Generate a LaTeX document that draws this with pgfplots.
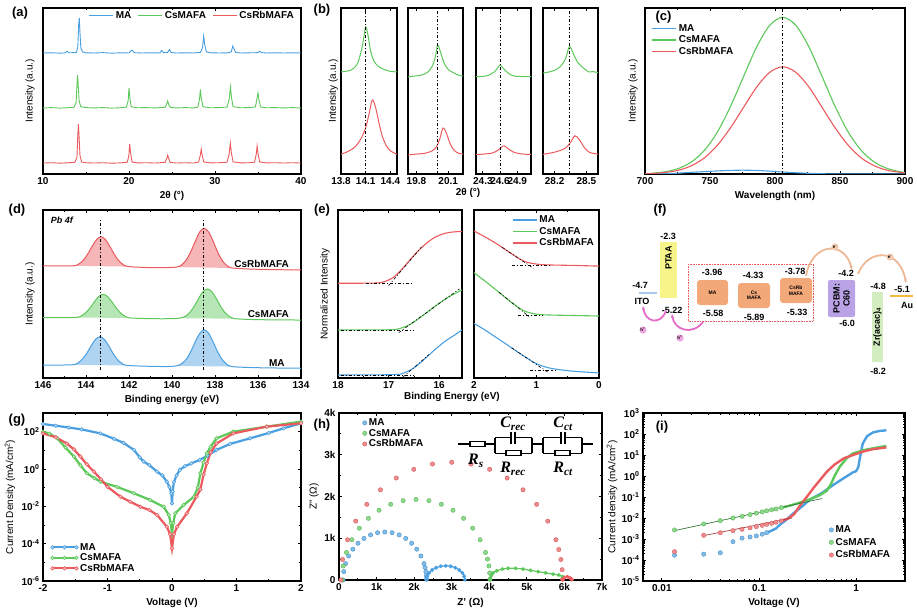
\documentclass[border=0pt]{standalone}
\usepackage{fontspec}
\setmainfont{Liberation Sans}
\newfontfamily\serifrm{Liberation Serif}
\usepackage{pgfplots}
\pgfplotsset{compat=1.18}
\usetikzlibrary{arrows.meta}
\definecolor{cB}{HTML}{4A9FE0}
\definecolor{cG}{HTML}{5CC85A}
\definecolor{cR}{HTML}{EB5A5E}
\definecolor{cPTAA}{HTML}{F7F58A}
\definecolor{cPVK}{HTML}{F2A878}
\definecolor{cPCBM}{HTML}{B9A2E6}
\definecolor{cZr}{HTML}{D4EDC0}
\definecolor{cITO}{HTML}{A9C8EC}
\definecolor{cAu}{HTML}{F6B844}
\definecolor{cEa}{HTML}{EDB894}
\definecolor{cHa}{HTML}{E46BC8}
\newcommand{\mytf}{\bfseries\fontsize{10}{11}\selectfont}
\newcommand{\mylf}{\mdseries\fontsize{10}{11}\selectfont}
\newcommand{\mypf}{\bfseries\fontsize{13}{13}\selectfont}
\newcommand{\myffn}{\bfseries\fontsize{9}{10}\selectfont}
\newcommand{\mysfn}{\bfseries\fontsize{5}{5.5}\selectfont}
\newcommand{\myxfn}{\bfseries\fontsize{4.5}{5}\selectfont}
\newcommand{\myitf}{\bfseries\itshape\fontsize{9}{10}\selectfont}
\newcommand{\mycf}{\serifrm\bfseries\itshape\fontsize{16}{16}\selectfont}
\pgfplotsset{
  every axis/.append style={
    scale only axis, anchor=south west,
    axis line style={line width=1.1pt},
    tick align=inside, major tick length=3pt, minor tick length=1.8pt,
    every tick/.style={black, line width=0.8pt},
    tick label style={font=\mytf},
    label style={font=\mytf},
    /pgf/number format/assume math mode=true,
    legend cell align=left,
  },
  ylpos/.style={every axis y label/.style={at={(axis description cs:#1,0.5)}, rotate=90, anchor=center}},
  lineleg/.style={legend image code/.code={\draw[##1, line width=1.5pt] (0pt,0pt) -- (24pt,0pt);}},
  dotm/.style={only marks, mark=*, mark size=2.2pt, mark options={fill=#1!70, draw=#1!85!black, line width=0.3pt}},
  gline/.style={#1, line width=2.2pt, mark=*, mark size=1.8pt, mark options={fill=#1!35, draw=#1, line width=0.6pt}},
}
\begin{document}
\begin{tikzpicture}[x=1pt,y=1pt]
\useasboundingbox (0,0) rectangle (917,611);

% ---------------- (a)
\begin{axis}[at={(43pt,437pt)}, width=258pt, height=166pt,
 xmin=10, xmax=40, ymin=0, ymax=100, xtick={10,20,30,40}, minor x tick num=1, ytick=\empty,
 xlabel={2θ  (°)}, ylabel={Intensity (a.u.)}, ylpos=-0.05, ylabel style={font=\mylf},
 lineleg, legend columns=3,
 legend style={at={(0.985,1)}, anchor=north east, draw=none, fill=none, font=\mytf, inner sep=1pt,
   /tikz/every even column/.append style={column sep=4pt}},
 every axis plot/.append style={line width=0.9pt}]
\addplot[cB] coordinates {(10,72.9)(11,73.0)(12,72.8)(12.6,73.0)(12.8,74.0)(13.0,73.0)(13.5,73.1)(13.9,73.3)(14.05,77)(14.15,90)(14.22,94)(14.3,85)(14.4,76)(14.6,73.5)(15,73.0)(16,72.9)(17,73.1)(18,72.8)(19,73.0)(20,72.9)(20.2,74.2)(20.4,74.5)(20.6,73.1)(21.5,72.9)(22.5,73.0)(23.6,73.0)(23.8,74.5)(24.0,73.1)(24.5,73.3)(24.7,75)(24.9,73.2)(25.5,72.9)(26.5,73.0)(27.5,72.9)(28.3,73.3)(28.55,76)(28.68,83)(28.8,78)(29.0,73.5)(29.5,73.0)(30.5,72.9)(31.5,73.0)(31.9,73.6)(32.05,77)(32.2,75.5)(32.4,73.2)(33,72.9)(34,73.0)(35.0,73.1)(35.2,74.0)(35.4,73.1)(36,72.9)(37,73.0)(38,72.9)(39,73.0)(40,72.9)};
\addlegendentry{MA}
\addplot[cG] coordinates {(10,39.8)(11,40.0)(12,39.7)(13,40.0)(13.6,40.2)(13.85,43)(13.95,54)(14.02,59.6)(14.1,53)(14.2,44)(14.4,40.5)(15,40.0)(16,39.8)(17,40.0)(18,39.7)(19,39.9)(19.7,40.3)(19.9,44)(20.0,51.8)(20.1,46)(20.25,40.5)(21,39.9)(22,40.0)(23,39.8)(24.2,40.2)(24.4,42.5)(24.5,44)(24.6,42)(24.8,40.2)(25.5,39.8)(26.5,40.0)(27.5,39.8)(28.0,40.3)(28.2,45)(28.3,51)(28.4,46)(28.6,40.5)(29.5,39.9)(30.5,40.0)(31.4,40.3)(31.65,45)(31.8,52.4)(31.92,46)(32.1,40.6)(33,39.9)(34,40.0)(34.7,40.4)(34.9,46)(35.0,48.8)(35.1,45)(35.3,40.4)(36,39.9)(37,40.0)(38,39.8)(39,40.0)(40,39.8)};
\addlegendentry{CsMAFA}
\addplot[cR] coordinates {(10,6.6)(11,6.8)(12,6.5)(13,6.8)(13.7,7.0)(13.95,10)(14.05,24)(14.12,30)(14.2,22)(14.3,11)(14.5,7.2)(15,6.8)(16,6.6)(17,6.8)(18,6.5)(19,6.7)(19.8,7.1)(19.98,11)(20.08,18)(20.18,13)(20.35,7.2)(21,6.7)(22,6.8)(23,6.6)(24.2,7.0)(24.4,9.5)(24.5,11.4)(24.6,9.5)(24.8,7.0)(25.5,6.6)(26.5,6.8)(27.5,6.6)(28.1,7.2)(28.3,11.5)(28.4,15)(28.5,11.5)(28.7,7.2)(29.5,6.7)(30.5,6.8)(31.4,7.1)(31.65,12)(31.78,18.7)(31.9,13)(32.1,7.3)(33,6.7)(34,6.8)(34.6,7.1)(34.8,12)(34.9,16.9)(35.0,12.5)(35.2,7.2)(36,6.7)(37,6.8)(38,6.6)(39,6.8)(40,6.6)};
\addlegendentry{CsRbMAFA}
\end{axis}

% ---------------- (b)
\begin{axis}[at={(341pt,437pt)}, width=56pt, height=166pt, xmin=13.8, xmax=14.48, ymin=0, ymax=100,
 xtick={13.8,14.1,14.4}, ytick=\empty, ylabel={Intensity (a.u.)}, ylpos=-0.14, ylabel style={font=\mylf},
 every axis plot/.append style={line width=1pt}]
\addplot[cG, smooth] coordinates {(13.8,61.5)(13.85,61.8)(13.9,62.2)(13.95,63.5)(14.0,66.5)(14.04,73)(14.07,80)(14.1,88.6)(14.13,83)(14.16,74)(14.2,68)(14.25,65)(14.3,63.5)(14.35,62.5)(14.4,61.8)(14.48,61.5)};
\addplot[cR, smooth] coordinates {(13.8,12.0)(13.85,12.8)(13.9,14.0)(13.95,15.5)(14.0,18)(14.05,22)(14.1,28)(14.14,36)(14.18,44.6)(14.22,40)(14.26,31)(14.3,23)(14.35,17)(14.4,14)(14.45,12.5)(14.48,12.0)};
\addplot[black, dash dot, line width=0.8pt] coordinates {(14.1,0)(14.1,100)};
\end{axis}
\begin{axis}[at={(408pt,437pt)}, width=55pt, height=166pt, xmin=19.72, xmax=20.24, ymin=0, ymax=100,
 xtick={19.8,20.1}, ytick=\empty, every axis plot/.append style={line width=1pt}]
\addplot[cG, smooth] coordinates {(19.72,58.5)(19.78,59)(19.84,59.5)(19.9,61)(19.95,65)(19.98,71)(20.0,77.7)(20.03,73)(20.06,67)(20.1,63)(20.15,61)(20.2,59.5)(20.24,59)};
\addplot[cR, smooth] coordinates {(19.72,11.5)(19.8,12)(19.88,12.5)(19.95,14)(19.99,16.5)(20.02,21)(20.05,27.7)(20.08,25)(20.12,18)(20.16,14)(20.2,12.5)(20.24,12)};
\addplot[black, dash dot, line width=0.8pt] coordinates {(20.0,0)(20.0,100)};
\end{axis}
\begin{axis}[at={(476pt,437pt)}, width=55pt, height=166pt, xmin=24.18, xmax=25.14, ymin=0, ymax=100,
 xtick={24.3,24.6,24.9}, ytick=\empty, every axis plot/.append style={line width=1pt}]
\addplot[cG, smooth] coordinates {(24.18,58.6)(24.3,58.8)(24.4,59.5)(24.5,61.5)(24.56,64)(24.6,65.7)(24.66,63.5)(24.75,60.5)(24.85,59)(25.0,58.7)(25.14,58.6)};
\addplot[cR, smooth] coordinates {(24.18,11.6)(24.3,12)(24.45,12.5)(24.55,14)(24.62,16)(24.67,17)(24.75,15)(24.85,13)(25.0,12)(25.14,11.8)};
\addplot[black, dash dot, line width=0.8pt] coordinates {(24.6,0)(24.6,100)};
\end{axis}
\begin{axis}[at={(543pt,437pt)}, width=55pt, height=166pt, xmin=28.09, xmax=28.61, ymin=0, ymax=100,
 xtick={28.2,28.5}, ytick=\empty, every axis plot/.append style={line width=1pt}]
\addplot[cG, smooth] coordinates {(28.09,60.8)(28.15,61.5)(28.2,62.5)(28.25,64.5)(28.3,69)(28.34,76.7)(28.38,72)(28.42,67)(28.47,64)(28.52,61.5)(28.56,61.7)(28.61,61)};
\addplot[cR, smooth] coordinates {(28.09,11.8)(28.15,12.5)(28.22,13.5)(28.3,15.5)(28.35,19)(28.39,23)(28.43,21)(28.48,16)(28.53,13)(28.61,12)};
\addplot[black, dash dot, line width=0.8pt] coordinates {(28.34,0)(28.34,100)};
\end{axis}

% ---------------- (c)
\begin{axis}[at={(645pt,437pt)}, width=260pt, height=166pt, xmin=700, xmax=900, ymin=0, ymax=100,
 xtick={700,750,800,850,900}, minor x tick num=1, ytick=\empty,
 xlabel={Wavelength (nm)}, ylabel={Intensity (a.u.)}, ylpos=-0.046, ylabel style={font=\mylf},
 lineleg, legend style={at={(0.02,0.92)}, anchor=north west, draw=none, fill=none, font=\mytf, inner sep=1pt, row sep=-1pt},
 every axis plot/.append style={line width=1.1pt}]
\addplot[cB, smooth] coordinates {(700,0)(720,0.3)(740,1.2)(760,2.0)(775,2.3)(790,2.0)(806,1.2)(820,0.6)(840,0.1)(860,0)(900,0)};
\addlegendentry{MA}
\addplot[cG, smooth] coordinates {(700,0.2)(706,0.5)(716,1.4)(726,3.4)(736,7.4)(746,14.5)(756,25.7)(766,41.1)(776,59.1)(786,76.7)(796,89.6)(806,94.4)(816,89.6)(826,76.7)(836,59.1)(846,41.1)(856,25.7)(866,14.5)(876,7.4)(886,3.4)(896,1.4)(900,0.9)};
\addlegendentry{CsMAFA}
\addplot[cR, smooth] coordinates {(700,0.1)(706,0.3)(716,1.0)(726,2.3)(736,5.1)(746,9.9)(756,17.6)(766,28.1)(776,40.4)(786,52.5)(796,61.3)(806,64.6)(816,61.3)(826,52.5)(836,40.4)(846,28.1)(856,17.6)(866,9.9)(876,5.1)(886,2.3)(896,1.0)(900,0.6)};
\addlegendentry{CsRbMAFA}
\addplot[black, dash dot, line width=0.7pt, forget plot] coordinates {(806,0)(806,100)};
\end{axis}

% ---------------- (d)
\begin{axis}[at={(43pt,233pt)}, width=258pt, height=168pt, x dir=reverse, xmin=134, xmax=146, ymin=0, ymax=100,
 xtick={134,136,138,140,142,144,146}, minor x tick num=1, ytick=\empty,
 xlabel={Binding energy (eV)}, ylabel={Intensity (a.u.)}, ylpos=-0.05, ylabel style={font=\mylf},
 every axis plot/.append style={line width=1pt}]
\addplot[fill=cR!45, draw=none, smooth] coordinates {(144.6,66.8)(144.3,68.2)(144.1,70.5)(143.9,74.2)(143.7,78.7)(143.5,82.5)(143.3,84.1)(143.1,82.5)(142.9,78.5)(142.7,74.0)(142.5,70.2)(142.3,67.8)(142.0,66.3)} -- cycle;
\addplot[fill=cR!45, draw=none, smooth] coordinates {(139.8,66.0)(139.5,67.9)(139.3,71.0)(139.1,75.9)(138.9,81.9)(138.7,87.1)(138.5,89.1)(138.3,87.0)(138.1,81.8)(137.9,75.7)(137.7,70.7)(137.5,67.5)(137.2,65.5)} -- cycle;
\addplot[cR, smooth] coordinates {(146,66.7)(144.6,66.8)(144.3,68.2)(144.1,70.5)(143.9,74.2)(143.7,78.7)(143.5,82.5)(143.3,84.1)(143.1,82.5)(142.9,78.5)(142.7,74.0)(142.5,70.2)(142.3,67.8)(142.0,66.3)(140.8,65.66)(139.8,66.0)(139.5,67.9)(139.3,71.0)(139.1,75.9)(138.9,81.9)(138.7,87.1)(138.5,89.1)(138.3,87.0)(138.1,81.8)(137.9,75.7)(137.7,70.7)(137.5,67.5)(137.2,65.5)(136,64.7)(134,64.3)};
\addplot[fill=cG!45, draw=none, smooth] coordinates {(144.5,36.0)(144.2,37.2)(144.0,39.0)(143.8,41.9)(143.6,45.5)(143.4,48.6)(143.2,49.8)(143.0,48.5)(142.8,45.4)(142.6,41.8)(142.4,38.8)(142.2,36.9)(141.9,35.7)} -- cycle;
\addplot[fill=cG!45, draw=none, smooth] coordinates {(139.65,35.6)(139.35,37.0)(139.15,39.3)(138.95,43.0)(138.75,47.6)(138.55,51.5)(138.35,53.0)(138.15,51.4)(137.95,47.5)(137.75,42.9)(137.55,39.1)(137.35,36.8)(137.05,35.3)} -- cycle;
\addplot[cG, smooth] coordinates {(146,35.9)(144.5,36.0)(144.2,37.2)(144.0,39.0)(143.8,41.9)(143.6,45.5)(143.4,48.6)(143.2,49.8)(143.0,48.5)(142.8,45.4)(142.6,41.8)(142.4,38.8)(142.2,36.9)(141.9,35.7)(140.5,35.26)(139.65,35.6)(139.35,37.0)(139.15,39.3)(138.95,43.0)(138.75,47.6)(138.55,51.5)(138.35,53.0)(138.15,51.4)(137.95,47.5)(137.75,42.9)(137.55,39.1)(137.35,36.8)(137.05,35.3)(136,34.73)(134,34.5)};
\addplot[fill=cB!45, draw=none, smooth] coordinates {(144.65,7.86)(144.35,9.2)(144.15,11.5)(143.95,15.0)(143.75,19.4)(143.55,23.1)(143.35,24.6)(143.15,23.0)(142.95,19.3)(142.75,14.8)(142.55,11.2)(142.35,8.9)(142.05,7.45)} -- cycle;
\addplot[fill=cB!45, draw=none, smooth] coordinates {(139.8,7.2)(139.5,9.0)(139.3,11.8)(139.1,16.4)(138.9,22.0)(138.7,26.7)(138.5,28.6)(138.3,26.7)(138.1,21.8)(137.9,16.2)(137.7,11.6)(137.5,8.7)(137.2,6.8)} -- cycle;
\addplot[cB, smooth] coordinates {(146,7.7)(144.65,7.86)(144.35,9.2)(144.15,11.5)(143.95,15.0)(143.75,19.4)(143.55,23.1)(143.35,24.6)(143.15,23.0)(142.95,19.3)(142.75,14.8)(142.55,11.2)(142.35,8.9)(142.05,7.45)(140.5,6.83)(139.8,7.2)(139.5,9.0)(139.3,11.8)(139.1,16.4)(138.9,22.0)(138.7,26.7)(138.5,28.6)(138.3,26.7)(138.1,21.8)(137.9,16.2)(137.7,11.6)(137.5,8.7)(137.2,6.8)(136,6.12)(134,5.8)};
\addplot[black, dash dot, line width=0.7pt] coordinates {(143.35,5)(143.35,95)};
\addplot[black, dash dot, line width=0.7pt] coordinates {(138.55,5)(138.55,95)};
\node[font=\mytf, anchor=east] at (axis cs:134.4,68) {CsRbMAFA};
\node[font=\mytf, anchor=east] at (axis cs:134.4,38) {CsMAFA};
\node[font=\mytf, anchor=east] at (axis cs:134.6,9) {MA};
\node[font=\myitf, anchor=west] at (axis cs:145.8,94) {Pb 4f};
\end{axis}

% ---------------- (e)
\begin{axis}[at={(338pt,233pt)}, width=124pt, height=168pt, x dir=reverse, xmin=15.55, xmax=18, ymin=0, ymax=100,
 xtick={16,17,18}, minor x tick num=1, ytick=\empty,
 ylabel={Normalized Intensity}, ylpos=-0.105, ylabel style={font=\mylf},
 every axis plot/.append style={line width=1.1pt}]
\addplot[cR, smooth] coordinates {(18,56.4)(17.3,56.5)(17.1,57.2)(16.9,60)(16.7,66)(16.5,73)(16.3,79)(16.1,83.5)(15.9,86)(15.7,87)(15.55,87.1)};
\addplot[cG, smooth] coordinates {(18,28.6)(17.0,28.7)(16.8,29.3)(16.6,31.5)(16.4,35.5)(16.2,40)(16.0,44.5)(15.8,48.5)(15.55,52.4)};
\addplot[cB, smooth] coordinates {(18,1.8)(16.9,2)(16.7,3)(16.5,6)(16.3,11)(16.1,16.5)(15.9,21.5)(15.7,25.5)(15.55,28.6)};
\addplot[black, dash dot, line width=0.6pt] coordinates {(17.45,56.4)(16.55,56.4)};
\addplot[black, dash dot, line width=0.6pt] coordinates {(17.0,55)(16.35,78)};
\addplot[black, dash dot, line width=0.6pt] coordinates {(17.95,28.6)(16.5,28.6)};
\addplot[black, dash dot, line width=0.6pt] coordinates {(16.8,27)(15.6,53)};
\addplot[black, dash dot, line width=0.6pt] coordinates {(17.95,1.8)(16.5,1.8)};
\addplot[black, dash dot, line width=0.6pt] coordinates {(16.72,0.5)(16.2,14)};
\end{axis}
\begin{axis}[at={(474pt,233pt)}, width=125pt, height=168pt, x dir=reverse, xmin=0, xmax=2, ymin=0, ymax=100,
 xtick={0,1,2}, minor x tick num=1, ytick=\empty,
 lineleg, legend style={at={(0.985,0.985)}, anchor=north east, draw=none, fill=none, font=\mytf, inner sep=1pt, row sep=-1pt},
 every axis plot/.append style={line width=1.1pt}]
\addplot[cB, smooth] coordinates {(2,32.5)(1.8,28)(1.6,23)(1.4,18)(1.2,13)(1.0,8.5)(0.8,6)(0.6,4.8)(0.4,4)(0,3)};
\addlegendentry{MA}
\addplot[cG, smooth] coordinates {(2,62.7)(1.8,57)(1.6,51)(1.4,45)(1.2,40)(1.0,38)(0.8,37.5)(0.4,37.2)(0,36.9)};
\addlegendentry{CsMAFA}
\addplot[cR, smooth] coordinates {(2,87.5)(1.8,83.5)(1.6,79)(1.4,74)(1.2,69.5)(1.0,67.8)(0.8,67.3)(0.4,67.0)(0,66.6)};
\addlegendentry{CsRbMAFA}
\addplot[black, dash dot, line width=0.6pt, forget plot] coordinates {(1.55,77.8)(1.05,65.3)};
\addplot[black, dash dot, line width=0.6pt, forget plot] coordinates {(1.4,67)(0.8,67)};
\addplot[black, dash dot, line width=0.6pt, forget plot] coordinates {(1.6,51)(1.1,36)};
\addplot[black, dash dot, line width=0.6pt, forget plot] coordinates {(1.3,37.5)(0.9,37.5)};
\addplot[black, dash dot, line width=0.6pt, forget plot] coordinates {(1.4,18)(0.8,3)};
\addplot[black, dash dot, line width=0.6pt, forget plot] coordinates {(1.1,4.5)(0.7,4.5)};
\end{axis}

% ---------------- (f)
\begin{axis}[at={(620pt,221pt)}, width=297pt, height=190pt, xmin=620, xmax=917, ymin=200, ymax=390,
 y dir=reverse, axis lines=none, clip=false]
\addplot[cITO, line width=2pt] coordinates {(639,293)(657,293)};
\addplot[fill=cPTAA, draw=none] coordinates {(660,242)(677,242)(677,298)(660,298)} -- cycle;
\addplot[cR, densely dotted, line width=0.6pt] coordinates {(688,264)(813,264)(813,321)(688,321)} -- cycle;
\addplot[fill=cPVK, draw=none, rounded corners=3pt] coordinates {(697,280)(728,280)(728,305)(697,305)} -- cycle;
\addplot[fill=cPVK, draw=none, rounded corners=3pt] coordinates {(738,283)(770,283)(770,308)(738,308)} -- cycle;
\addplot[fill=cPVK, draw=none, rounded corners=3pt] coordinates {(780,278)(812,278)(812,303)(780,303)} -- cycle;
\addplot[fill=cPCBM, draw=none, rounded corners=2pt] coordinates {(828,280)(855,280)(855,317)(828,317)} -- cycle;
\addplot[fill=cZr, draw=none] coordinates {(872,292)(883,292)(883,362)(872,362)} -- cycle;
\addplot[cAu, line width=2pt] coordinates {(890,296)(913,296)};
\node[font=\myffn] at (axis cs:640,285) {-4.7};
\node[font=\myffn] at (axis cs:642,301) {ITO};
\node[font=\myffn] at (axis cs:668,236) {-2.3};
\node[font=\myffn, rotate=90] at (axis cs:668.5,258) {PTAA};
\node[font=\myffn] at (axis cs:672,310) {-5.22};
\node[font=\myffn] at (axis cs:712,272) {-3.96};
\node[font=\mysfn] at (axis cs:712.5,292.5) {MA};
\node[font=\myffn] at (axis cs:713,313) {-5.58};
\node[font=\myffn] at (axis cs:753,275) {-4.33};
\node[font=\mysfn, align=center] at (axis cs:754,295.5) {Cs\\MAFA};
\node[font=\myffn] at (axis cs:754,317) {-5.89};
\node[font=\myffn] at (axis cs:795,271) {-3.78};
\node[font=\mysfn, align=center] at (axis cs:796,290.5) {CsRb\\MAFA};
\node[font=\myffn] at (axis cs:797,312) {-5.33};
\node[font=\myffn] at (axis cs:846,273) {-4.2};
\node[font=\myffn, rotate=90, align=center] at (axis cs:841.5,298.5) {PCBM:\\C60};
\node[font=\myffn] at (axis cs:847,323) {-6.0};
\node[font=\myffn] at (axis cs:878,286) {-4.8};
\node[font=\myffn, rotate=90] at (axis cs:877.5,327) {Zr(acac)\textsubscript{4}};
\node[font=\myffn] at (axis cs:878,371) {-8.2};
\node[font=\myffn] at (axis cs:902,289) {-5.1};
\node[font=\myffn] at (axis cs:907,305) {Au};
\draw[cEa, line width=1.8pt, -{Stealth[length=4pt]}] (axis cs:806,276) .. controls (axis cs:812,242) and (axis cs:845,240) .. (axis cs:852,270);
\draw[cEa, line width=1.8pt, -{Stealth[length=4pt]}] (axis cs:858,274) .. controls (axis cs:868,248) and (axis cs:900,248) .. (axis cs:906,283);
\fill[cEa!75] (axis cs:835,247) circle[radius=3.6pt];
\node[font=\myxfn] at (axis cs:835,247) {e\textsuperscript{-}};
\fill[cEa!75] (axis cs:890,257) circle[radius=3.6pt];
\node[font=\myxfn] at (axis cs:890,257) {e\textsuperscript{-}};
\draw[cHa, line width=1.8pt, -{Stealth[length=4pt]}] (axis cs:666,311) .. controls (axis cs:660,326) and (axis cs:645,322) .. (axis cs:643,306);
\draw[cHa, line width=1.8pt, -{Stealth[length=4pt]}] (axis cs:703,322) .. controls (axis cs:692,336) and (axis cs:674,330) .. (axis cs:672,314);
\fill[cHa!60] (axis cs:643,330) circle[radius=3.6pt];
\node[font=\myxfn] at (axis cs:643,330) {h\textsuperscript{+}};
\fill[cHa!60] (axis cs:680,338) circle[radius=3.6pt];
\node[font=\myxfn] at (axis cs:680,338) {h\textsuperscript{+}};
\end{axis}

% ---------------- (g)
\begin{axis}[at={(43pt,30pt)}, width=258pt, height=168pt, xmin=-2, xmax=2, ymin=1e-6, ymax=1e3, ymode=log,
 xtick={-2,-1,0,1,2}, minor x tick num=1,
 ytick={1e-6,1e-4,1e-2,1,1e2}, yticklabels={{10\textsuperscript{-6}},{10\textsuperscript{-4}},{10\textsuperscript{-2}},{10\textsuperscript{0}},{10\textsuperscript{2}}},
 minor ytick={1e-5,1e-3,1e-1,1e1,1e3},
 xlabel={Voltage (V)}, ylabel={Current Density (mA/cm\textsuperscript{2})}, ylpos=-0.128, ylabel style={font=\mylf},
 legend style={at={(0.025,0.03)}, anchor=south west, draw=none, fill=none, font=\mytf, inner sep=1pt, row sep=-2pt},
 legend image code/.code={\draw[#1] plot coordinates {(0pt,0pt) (12pt,0pt) (24pt,0pt)};}]
\addplot[gline=cB] coordinates {(-2.0,257)(-1.8,209)(-1.6,166)(-1.4,132)(-1.11,81)(-0.9,41.7)(-0.75,25)(-0.59,10.5)(-0.5,4.2)(-0.44,2.5)(-0.35,1.6)(-0.23,0.72)(-0.15,0.45)(-0.08,0.21)(-0.04,0.11)(-0.01,0.05)(0.0,0.0145)(0.01,0.063)(0.03,0.2)(0.07,0.45)(0.12,0.89)(0.2,1.41)(0.3,2.0)(0.43,3.1)(0.55,5.2)(0.69,10.5)(0.9,22)(1.21,44)(1.5,85)(1.73,151)(2.0,282)};
\addlegendentry{MA}
\addplot[gline=cG] coordinates {(-2.0,100)(-1.9,79)(-1.78,44)(-1.65,14)(-1.52,4.6)(-1.42,1.58)(-1.32,0.59)(-1.2,0.32)(-1.11,0.21)(-0.85,0.11)(-0.59,0.05)(-0.34,0.022)(-0.13,0.0095)(-0.05,3.5e-3)(-0.02,1.26e-3)(0.0,3.5e-4)(0.02,1.26e-3)(0.05,4.2e-3)(0.18,0.0117)(0.34,0.033)(0.4,0.1)(0.44,0.59)(0.49,2.2)(0.54,6.9)(0.6,15.8)(0.69,44)(0.95,100)(1.47,186)(2.0,347)};
\addlegendentry{CsMAFA}
\addplot[gline=cR] coordinates {(-2.0,81)(-1.8,50)(-1.63,23)(-1.52,11.2)(-1.42,4.6)(-1.32,1.78)(-1.21,0.72)(-1.1,0.28)(-1.0,0.11)(-0.8,0.033)(-0.65,0.0178)(-0.49,9.5e-3)(-0.35,6.3e-3)(-0.23,3.4e-3)(-0.08,8.1e-4)(-0.03,3.2e-4)(0.0,5.6e-5)(0.03,3.2e-4)(0.08,8.1e-4)(0.23,4.2e-3)(0.38,0.033)(0.44,0.08)(0.49,0.5)(0.54,2.0)(0.6,7.9)(0.69,23)(0.95,81)(1.47,186)(2.0,282)};
\addlegendentry{CsRbMAFA}
\end{axis}

% ---------------- (h)
\begin{axis}[at={(339pt,31pt)}, width=263pt, height=167pt, xmin=0, xmax=7, ymin=0, ymax=4,
 xtick={0,1,2,3,4,5,6,7}, xticklabels={0,1k,2k,3k,4k,5k,6k,7k}, minor x tick num=1,
 ytick={0,1,2,3,4}, yticklabels={0,1k,2k,3k,4k}, minor y tick num=1,
 xlabel={Z' (Ω)}, ylabel={Z'' (Ω)}, ylpos=-0.095,
 legend style={at={(0.085,0.985)}, anchor=north west, draw=none, fill=none, font=\mytf, inner sep=1pt, row sep=-2pt}]
\addplot[dotm=cB] coordinates {(0.11,0)(0.127,0.200)(0.177,0.393)(0.259,0.575)(0.370,0.739)(0.506,0.881)(0.665,0.996)(0.840,1.081)(1.027,1.133)(1.22,1.15)(1.413,1.133)(1.600,1.081)(1.775,0.996)(1.934,0.881)(2.070,0.739)(2.181,0.575)(2.263,0.393)(2.292,0.298)(2.313,0.200)(2.326,0.100)(2.33,0.02)};
\addlegendentry{MA}
\addplot[dotm=cG] coordinates {(0.08,0)(0.110,0.336)(0.198,0.660)(0.344,0.965)(0.541,1.241)(0.784,1.478)(1.065,1.671)(1.376,1.814)(1.707,1.901)(2.05,1.93)(2.393,1.901)(2.724,1.814)(3.035,1.671)(3.316,1.478)(3.559,1.241)(3.756,0.965)(3.902,0.660)(3.953,0.5)(3.990,0.336)(4.012,0.168)(4.02,0.02)};
\addlegendentry{CsMAFA}
\addplot[dotm=cR] coordinates {(0.05,0)(0.094,0.491)(0.227,0.964)(0.445,1.41)(0.740,1.813)(1.103,2.160)(1.525,2.442)(1.991,2.651)(2.487,2.778)(3.0,2.82)(3.513,2.778)(4.009,2.651)(4.475,2.442)(4.897,2.160)(5.260,1.813)(5.555,1.41)(5.773,0.964)(5.850,0.730)(5.906,0.491)(5.939,0.246)(5.95,0.02)};
\addlegendentry{CsRbMAFA}
\addplot[cB, smooth, line width=1.2pt, mark=o, mark size=1.3pt, forget plot] coordinates {(2.33,0.01)(2.347,0.088)(2.398,0.17)(2.479,0.24)(2.585,0.294)(2.708,0.328)(2.84,0.34)(2.972,0.328)(3.095,0.294)(3.201,0.24)(3.282,0.17)(3.333,0.088)(3.35,0.01)};
\addplot[cG, smooth, line width=1.2pt, mark=o, mark size=1.3pt, forget plot] coordinates {(4.02,0.01)(4.05,0.1)(4.1,0.17)(4.2,0.22)(4.35,0.26)(4.5,0.28)(4.7,0.28)(4.9,0.26)(5.1,0.23)(5.3,0.2)(5.5,0.17)(5.7,0.14)(5.85,0.12)(5.95,0.08)};
\addplot[cR, smooth, line width=1.2pt, mark=o, mark size=1.3pt, forget plot] coordinates {(5.95,0.01)(6.0,0.06)(6.08,0.08)(6.15,0.05)(6.2,0.01)};
\end{axis}

% ---------------- (i)
\begin{axis}[at={(643pt,30pt)}, width=262pt, height=168pt, xmode=log, ymode=log, xmin=0.0064, xmax=3.19, ymin=1e-5, ymax=1e3,
 xtick={0.01,0.1,1}, xticklabels={0.01,0.1,1},
 ytick={1e-5,1e-4,1e-3,1e-2,1e-1,1,1e1,1e2,1e3},
 yticklabels={{10\textsuperscript{-5}},{10\textsuperscript{-4}},{10\textsuperscript{-3}},{10\textsuperscript{-2}},{10\textsuperscript{-1}},{10\textsuperscript{0}},{10\textsuperscript{1}},{10\textsuperscript{2}},{10\textsuperscript{3}}},
 xlabel={Voltage (V)}, ylabel={Current density (mA/cm\textsuperscript{2})}, ylpos=-0.118, ylabel style={font=\mylf},
 legend style={at={(0.955,0.11)}, anchor=south east, draw=none, fill=none, font=\mytf, inner sep=1pt, row sep=0pt}]
\addplot[dotm=cB] coordinates {(0.0135,1.7e-4)(0.027,1.9e-4)(0.04,2.2e-4)(0.054,7.5e-4)(0.067,1.1e-3)(0.081,1.25e-3)(0.094,1.4e-3)(0.108,1.7e-3)(0.12,2.0e-3)};
\addlegendentry{MA}
\addplot[dotm=cG] coordinates {(0.0135,2.7e-3)(0.027,5.2e-3)(0.04,7.5e-3)(0.054,1.0e-2)(0.067,1.2e-2)(0.081,1.45e-2)(0.094,1.7e-2)(0.108,1.95e-2)(0.12,2.2e-2)(0.135,2.45e-2)(0.15,2.7e-2)(0.17,3.1e-2)};
\addlegendentry{CsMAFA}
\addplot[dotm=cR] coordinates {(0.0135,2.5e-4)(0.027,1.5e-3)(0.04,2.0e-3)(0.054,2.5e-3)(0.067,2.9e-3)(0.081,3.4e-3)(0.094,3.9e-3)(0.108,4.5e-3)(0.12,5.0e-3)(0.135,5.6e-3)(0.15,6.3e-3)(0.17,7.3e-3)};
\addlegendentry{CsRbMAFA}
\addplot[cB, line width=2.4pt, forget plot] coordinates {(0.12,2.0e-3)(0.135,2.5e-3)(0.15,3.2e-3)(0.166,5e-3)(0.19,8e-3)(0.226,0.0166)(0.26,0.028)(0.29,0.042)(0.33,0.072)(0.45,0.16)(0.58,0.37)(0.75,0.8)(0.93,1.5)(1.0,1.7)(1.05,2.5)(1.1,8)(1.17,35)(1.3,80)(1.5,120)(1.75,140)(2.05,150)};
\addplot[cG, line width=2.4pt, forget plot] coordinates {(0.17,3.1e-2)(0.2,3.7e-2)(0.25,0.05)(0.3,0.065)(0.35,0.085)(0.42,0.12)(0.5,0.2)(0.55,0.4)(0.6,1.0)(0.68,2.8)(0.8,7)(0.93,12)(1.2,17)(1.5,21)(2.05,27)};
\addplot[cR, line width=2.4pt, forget plot] coordinates {(0.17,7.3e-3)(0.2,9.5e-3)(0.23,0.015)(0.26,0.035)(0.31,0.1)(0.36,0.25)(0.42,0.6)(0.5,1.6)(0.6,3.5)(0.75,7)(0.93,10)(1.2,15)(1.5,19)(2.05,23)};
\addplot[cG!60!black, line width=0.7pt, forget plot] coordinates {(0.0135,2.5e-3)(0.45,0.085)};
\addplot[cR!70!black, line width=0.7pt, forget plot] coordinates {(0.027,1.45e-3)(0.22,1.0e-2)};
\end{axis}

% ---------------- circuit inset of (h)
\begin{scope}[line width=1.1pt]
\draw (458,167) -- (470,167);
\draw (470,164.5) rectangle (485,169.5);
\draw (485,167) -- (495,167);
\draw (495,173.3) -- (495,157.7);
\draw (532,173.3) -- (532,157.7);
\draw (495,173.3) -- (511,173.3);
\draw (511,167.3) -- (511,179.3);
\draw (515,167.3) -- (515,179.3);
\draw (515,173.3) -- (532,173.3);
\draw (495,157.7) -- (506,157.7);
\draw (506,155.2) rectangle (521,160.2);
\draw (521,157.7) -- (532,157.7);
\draw (532,167) -- (543,167);
\draw (543,173.3) -- (543,157.7);
\draw (582,173.3) -- (582,157.7);
\draw (543,173.3) -- (561,173.3);
\draw (561,167.3) -- (561,179.3);
\draw (565,167.3) -- (565,179.3);
\draw (565,173.3) -- (582,173.3);
\draw (543,157.7) -- (555,157.7);
\draw (555,155.2) rectangle (570,160.2);
\draw (570,157.7) -- (582,157.7);
\draw (582,167) -- (593,167);
\end{scope}
\path (513,187) node[font=\mycf] {C\textsubscript{rec}};
\path (563,187) node[font=\mycf] {C\textsubscript{ct}};
\path (476,150) node[font=\mycf] {R\textsubscript{s}};
\path (513,142) node[font=\mycf] {R\textsubscript{rec}};
\path (563,142) node[font=\mycf] {R\textsubscript{ct}};

% ---------------- panel labels & shared labels
\path (20,598) node[font=\mypf] {(a)};
\path (322,601) node[font=\mypf] {(b)};
\path (652,594) node[font=\mypf, anchor=west] {(c)};
\path (17,401) node[font=\mypf] {(d)};
\path (322,401) node[font=\mypf] {(e)};
\path (660,401) node[font=\mypf] {(f)};
\path (17,191) node[font=\mypf] {(g)};
\path (322,186) node[font=\mypf] {(h)};
\path (662,184) node[font=\mypf] {(i)};
\path (468,418) node[font=\mytf] {2θ  (°)};
\path (452,214) node[font=\mytf] {Binding Energy (eV)};
\end{tikzpicture}
\end{document}
